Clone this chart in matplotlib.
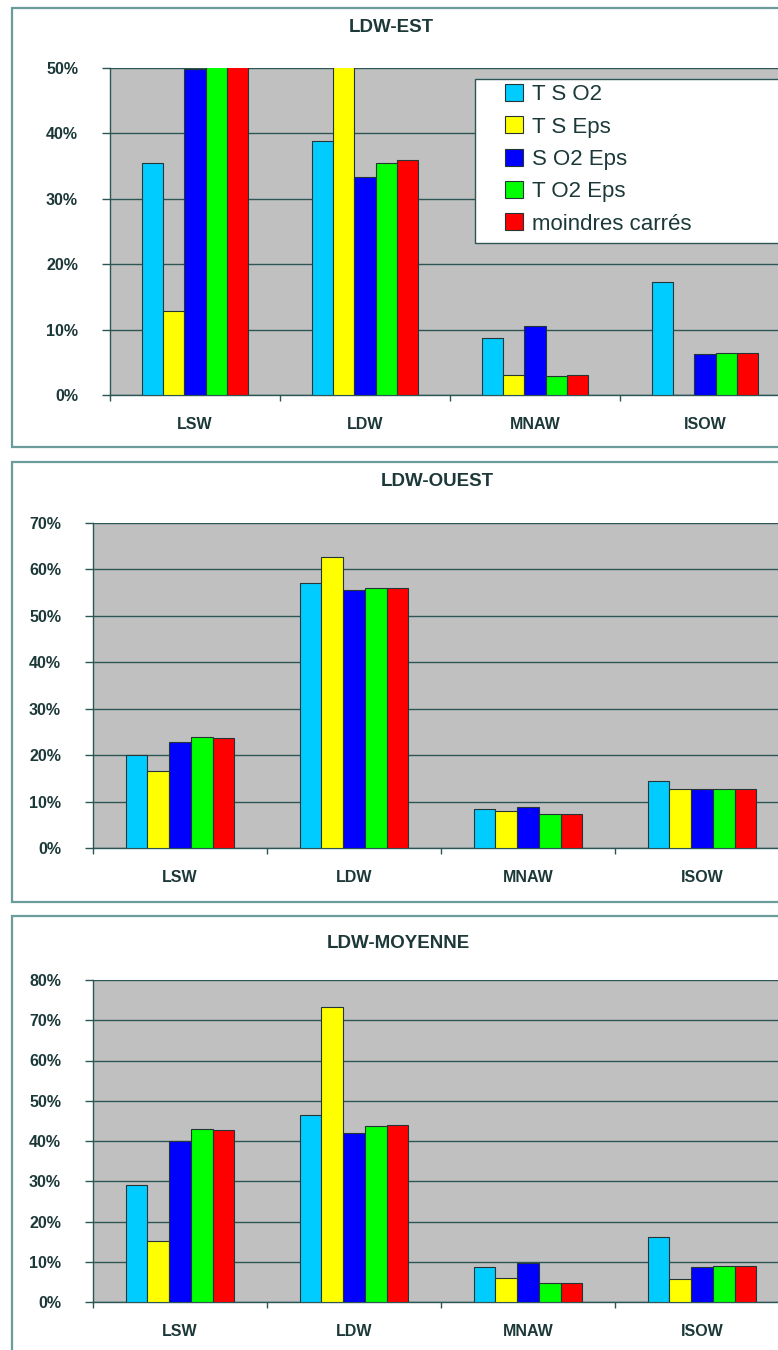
import matplotlib
matplotlib.use("Agg")
import matplotlib.pyplot as plt
from matplotlib.patches import Rectangle
from matplotlib.ticker import FuncFormatter, FixedLocator
import numpy as np

plt.rcParams['font.family'] = ['Liberation Sans', 'DejaVu Sans']

# ---------------- data (percent) ----------------
categories = ["LSW", "LDW", "MNAW", "ISOW"]
series_names = ["T S O2", "T S Eps", "S O2 Eps", "T O2 Eps", "moindres carrés"]
series_colors = ["#00CCFF", "#FFFF00", "#0000FF", "#00FF00", "#FF0000"]

titles = ["LDW-EST", "LDW-OUEST", "LDW-MOYENNE"]
ymax = [50, 70, 80]

est_ts_o2 = [35.5, 38.8, 8.7, 17.3]
est_ts_eps = [12.8, 80.0, 3.1, 0.0]
est_s_o2_eps = [49.8, 33.3, 10.5, 6.2]
est_t_o2_eps = [60.0, 35.5, 2.9, 6.4]
est_mc = [60.0, 36.0, 3.0, 6.4]

ouest_ts_o2 = [20.0, 57.0, 8.5, 14.4]
ouest_ts_eps = [16.6, 62.7, 7.9, 12.7]
ouest_s_o2_eps = [22.9, 55.6, 8.9, 12.7]
ouest_t_o2_eps = [24.0, 56.0, 7.3, 12.7]
ouest_mc = [23.8, 56.0, 7.3, 12.7]

moy_ts_o2 = [29.0, 46.4, 8.7, 16.2]
moy_ts_eps = [15.1, 73.4, 6.0, 5.8]
moy_s_o2_eps = [40.0, 41.9, 9.8, 8.7]
moy_t_o2_eps = [43.1, 43.8, 4.8, 9.0]
moy_mc = [42.7, 44.0, 4.8, 9.0]

panels = [
    [est_ts_o2, est_ts_eps, est_s_o2_eps, est_t_o2_eps, est_mc],
    [ouest_ts_o2, ouest_ts_eps, ouest_s_o2_eps, ouest_t_o2_eps, ouest_mc],
    [moy_ts_o2, moy_ts_eps, moy_s_o2_eps, moy_t_o2_eps, moy_mc],
]

# ---------------- layout ----------------
W, H = 778, 1350
fig = plt.figure(figsize=(W / 100, H / 100), dpi=100)
fig.patch.set_facecolor("white")

TXT = "#1c3838"
GRID = "#2c5656"
BORDER = "#6a9c9c"

def rect(x0, y0, x1, y1):
    return [x0 / W, 1 - y1 / H, (x1 - x0) / W, (y1 - y0) / H]

panel_boxes = [(12, 8, 800, 447), (12, 462, 800, 902), (12, 916, 800, 1370)]
axes_boxes = [(110, 68, 790, 395), (93, 523, 789, 848), (93, 980, 789, 1302)]
title_pos = [(391, 28), (437, 482), (398, 943)]

for (x0, y0, x1, y1) in panel_boxes:
    fig.add_artist(Rectangle((x0 / W, 1 - y1 / H), (x1 - x0) / W, (y1 - y0) / H,
                             transform=fig.transFigure, facecolor="white",
                             edgecolor=BORDER, linewidth=1.6, zorder=-10))

n = len(series_names)
bw = 0.125
x = np.arange(len(categories))
top_handles = None

for p, data in enumerate(panels):
    ax = fig.add_axes(rect(*axes_boxes[p]))
    ax.set_facecolor("#C0C0C0")
    handles = []
    for i, vals in enumerate(data):
        b = ax.bar(x + (i - (n - 1) / 2) * bw, vals, width=bw,
                   color=series_colors[i], edgecolor="#253535", linewidth=0.8,
                   zorder=3, label=series_names[i])
        handles.append(b)
    if p == 0:
        top_handles = handles
    ax.set_xlim(-0.5, len(categories) - 0.5)
    ax.set_ylim(0, ymax[p])
    ax.set_yticks(np.arange(0, ymax[p] + 1, 10))
    ax.yaxis.set_major_formatter(FuncFormatter(lambda v, pos: f"{int(round(v))}%"))
    ax.grid(axis="y", color=GRID, linewidth=1.0, zorder=1)
    ax.set_axisbelow(True)
    for s in ["top", "right"]:
        ax.spines[s].set_visible(False)
    for s in ["left", "bottom"]:
        ax.spines[s].set_color(GRID)
        ax.spines[s].set_linewidth(1.0)
    ax.tick_params(axis="y", direction="out", length=6, width=1, color=GRID,
                   pad=17, labelsize=11.5, labelcolor=TXT)
    ax.set_xticks(x)
    ax.set_xticklabels(categories)
    ax.xaxis.set_minor_locator(FixedLocator(np.arange(-0.5, len(categories), 1.0)))
    ax.tick_params(axis="x", which="major", length=0, pad=16, labelsize=11.5,
                   labelcolor=TXT)
    ax.tick_params(axis="x", which="minor", direction="out", length=4, width=1,
                   color=GRID)
    for lab in ax.get_yticklabels() + ax.get_xticklabels():
        lab.set_fontweight("bold")
    tx, ty = title_pos[p]
    fig.text(tx / W, 1 - ty / H, titles[p], ha="center", va="center",
             fontsize=13.5, fontweight="bold", color=TXT)

# legend box (top panel)
lx0, ly0, lx1, ly1 = 475, 79, 800, 243
fig.add_artist(Rectangle((lx0 / W, 1 - ly1 / H), (lx1 - lx0) / W, (ly1 - ly0) / H,
                         transform=fig.transFigure, facecolor="white",
                         edgecolor=GRID, linewidth=1.0, zorder=5))
leg = fig.legend(top_handles, series_names, loc="upper left",
                 bbox_to_anchor=(505 / W, 1 - 84 / H), bbox_transform=fig.transFigure,
                 frameon=False, fontsize=16, handlelength=0.8, handleheight=0.8,
                 handletextpad=0.4, labelspacing=0.5, borderpad=0, borderaxespad=0)
leg.set_zorder(6)
for t in leg.get_texts():
    t.set_color(TXT)

fig.savefig("out.png", dpi=100)
